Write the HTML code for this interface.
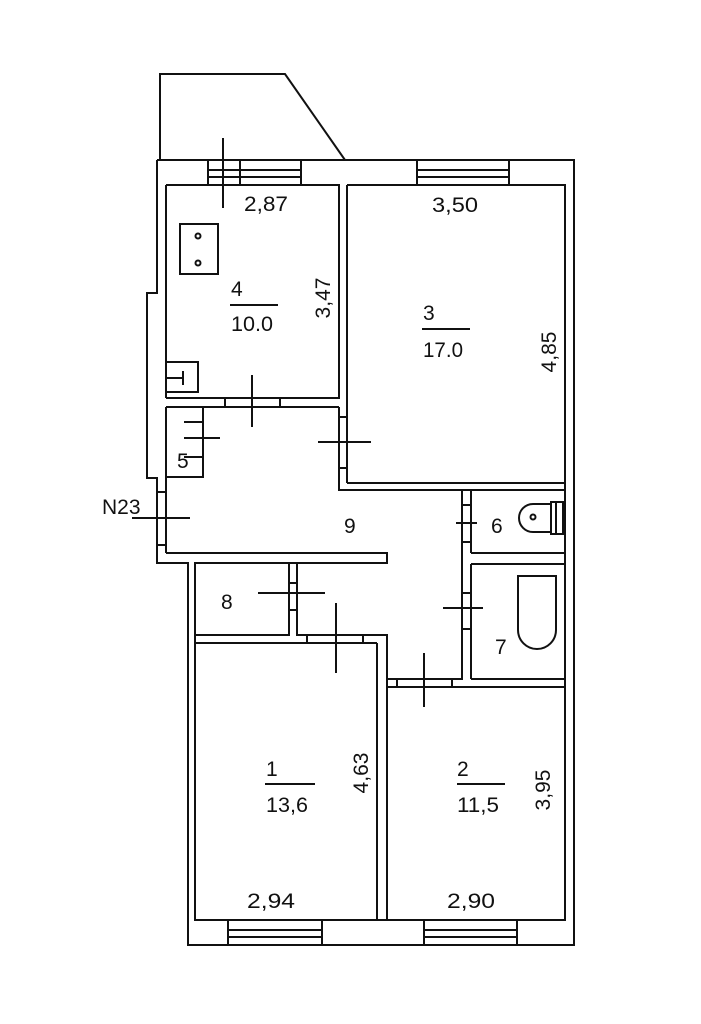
<!DOCTYPE html>
<html><head><meta charset="utf-8"><style>
html,body{margin:0;padding:0;background:#fff;}
svg{display:block}
text{font-family:"Liberation Sans","DejaVu Sans",sans-serif;font-size:21px;fill:#111;}
</style></head><body>
<svg width="701" height="1024" viewBox="0 0 701 1024" xmlns="http://www.w3.org/2000/svg">
<g fill="none" stroke="#111" stroke-width="2">
<polyline points="160,160 160,74 285,74 345,160"/>
<polyline points="157,160 574,160 574,945 188,945 188,563 157,563 157,478 147,478 147,293 157,293 157,160"/>
<polyline points="166,185 339,185 339,398 166,398"/>
<polyline points="166,185 166,398"/>
<polyline points="347,185 565,185 565,920 195,920 195,643"/>
<rect x="208" y="160" width="93" height="25"/>
<line x1="208" y1="170" x2="301" y2="170"/><line x1="208" y1="177" x2="301" y2="177"/>
<line x1="240" y1="160" x2="240" y2="185"/>
<rect x="417" y="160" width="92" height="25"/>
<line x1="417" y1="170" x2="509" y2="170"/><line x1="417" y1="177" x2="509" y2="177"/>
<line x1="195" y1="920" x2="565" y2="920"/>
<rect x="228" y="920" width="94" height="25"/>
<line x1="228" y1="930" x2="322" y2="930"/><line x1="228" y1="937" x2="322" y2="937"/>
<rect x="424" y="920" width="93" height="25"/>
<line x1="424" y1="930" x2="517" y2="930"/><line x1="424" y1="937" x2="517" y2="937"/>
<line x1="166" y1="407" x2="339" y2="407"/>
<line x1="225" y1="398" x2="225" y2="407"/><line x1="280" y1="398" x2="280" y2="407"/>
<line x1="347" y1="185" x2="347" y2="483"/>
<polyline points="339,407 339,490 565,490"/>
<line x1="347" y1="483" x2="565" y2="483"/>
<line x1="339" y1="417" x2="347" y2="417"/><line x1="339" y1="468" x2="347" y2="468"/>
<polyline points="166,407 166,553"/>
<polyline points="203,407 203,477 166,477"/>
<line x1="157" y1="492" x2="166" y2="492"/><line x1="157" y1="545" x2="166" y2="545"/>
<polyline points="166,553 387,553 387,563 195,563 195,643"/>
<polyline points="289,563 289,635 195,635"/>
<polyline points="297,563 297,635 387,635 387,920"/>
<line x1="289" y1="583" x2="297" y2="583"/><line x1="289" y1="610" x2="297" y2="610"/>
<line x1="195" y1="643" x2="377" y2="643"/>
<line x1="307" y1="635" x2="307" y2="643"/><line x1="363" y1="635" x2="363" y2="643"/>
<line x1="377" y1="643" x2="377" y2="920"/>
<polyline points="387,679 462,679 462,490"/>
<polyline points="387,687 565,687"/>
<polyline points="471,679 565,679"/>
<line x1="397" y1="679" x2="397" y2="687"/><line x1="452" y1="679" x2="452" y2="687"/>
<line x1="471" y1="490" x2="471" y2="553"/>
<line x1="471" y1="564" x2="471" y2="679"/>
<line x1="471" y1="553" x2="565" y2="553"/><line x1="471" y1="564" x2="565" y2="564"/>
<line x1="462" y1="505" x2="471" y2="505"/><line x1="462" y1="542" x2="471" y2="542"/>
<line x1="462" y1="593" x2="471" y2="593"/><line x1="462" y1="629" x2="471" y2="629"/>
<line x1="223" y1="138" x2="223" y2="208"/>
<line x1="252" y1="375" x2="252" y2="427"/>
<line x1="318" y1="442" x2="371" y2="442"/>
<line x1="184" y1="422" x2="204" y2="422"/><line x1="184" y1="457" x2="204" y2="457"/>
<line x1="184" y1="438" x2="220" y2="438"/>
<line x1="132" y1="518" x2="190" y2="518"/>
<line x1="258" y1="593" x2="325" y2="593"/>
<line x1="336" y1="603" x2="336" y2="673"/>
<line x1="456" y1="523" x2="477" y2="523"/>
<line x1="443" y1="608" x2="483" y2="608"/>
<line x1="424" y1="653" x2="424" y2="707"/>
<rect x="180" y="224" width="38" height="50"/>
<circle cx="198" cy="236" r="2.5"/><circle cx="198" cy="263" r="2.5"/>
<polyline points="166,362 198,362 198,392 166,392"/>
<line x1="166" y1="378" x2="183" y2="378"/><line x1="183" y1="371" x2="183" y2="385"/>
<path d="M551,504 L533,504 A14,14 0 0 0 533,532 L551,532"/>
<rect x="551" y="502" width="12" height="32"/>
<line x1="556" y1="502" x2="556" y2="534"/>
<circle cx="533" cy="517" r="2.5"/>
<path d="M518,576 L556,576 L556,630 A19,19 0 0 1 518,630 Z"/>
<line x1="230" y1="305" x2="278" y2="305"/>
<line x1="422" y1="329" x2="470" y2="329"/>
<line x1="265" y1="784" x2="315" y2="784"/>
<line x1="457" y1="784" x2="505" y2="784"/>
</g>
<g>
<text x="244" y="211" textLength="44" lengthAdjust="spacingAndGlyphs">2,87</text>
<text x="432" y="212" textLength="46" lengthAdjust="spacingAndGlyphs">3,50</text>
<text x="231" y="296">4</text>
<text x="231" y="331" textLength="42" lengthAdjust="spacingAndGlyphs">10.0</text>
<text x="423" y="320">3</text>
<text x="423" y="357" textLength="40" lengthAdjust="spacingAndGlyphs">17.0</text>
<text transform="translate(330,298) rotate(-90)" text-anchor="middle">3,47</text>
<text transform="translate(556,352) rotate(-90)" text-anchor="middle">4,85</text>
<text x="177" y="468">5</text>
<text x="102" y="514">N23</text>
<text x="344" y="533">9</text>
<text x="491" y="533">6</text>
<text x="221" y="609">8</text>
<text x="495" y="654">7</text>
<text x="266" y="776">1</text>
<text x="266" y="812" textLength="42" lengthAdjust="spacingAndGlyphs">13,6</text>
<text x="457" y="776">2</text>
<text x="457" y="812" textLength="42" lengthAdjust="spacingAndGlyphs">11,5</text>
<text transform="translate(368,773) rotate(-90)" text-anchor="middle">4,63</text>
<text transform="translate(550,790) rotate(-90)" text-anchor="middle">3,95</text>
<text x="247" y="908" textLength="48" lengthAdjust="spacingAndGlyphs">2,94</text>
<text x="447" y="908" textLength="48" lengthAdjust="spacingAndGlyphs">2,90</text>
</g>
</svg>
</body></html>
